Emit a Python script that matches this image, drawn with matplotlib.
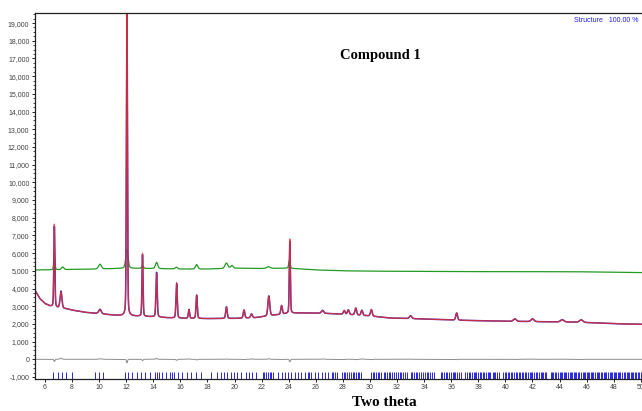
import numpy as np
import matplotlib
matplotlib.use("Agg")
import matplotlib.pyplot as plt
from matplotlib.ticker import FuncFormatter, MultipleLocator, AutoMinorLocator

# ------------------------------------------------
# datos leidos del difractograma (Compound 1)
# ------------------------------------------------
# fondo del patron principal (2theta, cuentas)
bg_x = [5.26, 5.6, 6.0, 6.4, 7.0, 7.6, 8.0, 9.0, 10.0, 11.0, 11.7, 13.0, 14.0,
        15.0, 16.0, 18.0, 20.0, 21.5, 22.5, 24.0, 25.0, 26.5, 28.0, 30.0, 31.5,
        33.0, 35.0, 37.0, 40.0, 43.0, 45.0, 47.0, 48.5, 50.09]
bg_y = [3900, 3450, 3150, 3000, 2900, 2850, 2780, 2650, 2580, 2500, 2460, 2430, 2400,
        2350, 2320, 2300, 2310, 2350, 2450, 2600, 2620, 2600, 2550, 2450, 2330,
        2300, 2250, 2200, 2150, 2120, 2100, 2050, 2000, 1980]

# picos: posicion, altura calculada, altura observada, anchura
peak_pos = [6.69, 7.18, 10.06, 12.05, 13.2, 14.24, 15.72, 16.63, 17.2, 19.4,
            20.7, 21.25, 22.53, 23.47, 24.08, 26.5, 28.1, 28.4, 28.95, 29.4,
            30.1, 33.0, 36.4, 40.7, 42.0, 44.2, 45.6]
peak_calc = [4680, 900, 220, 18000, 3560, 2460, 2000, 480, 1340, 640,
             470, 200, 1100, 500, 4200, 150, 220, 250, 400, 270,
             380, 150, 420, 150, 150, 120, 150]
peak_obs = [4560, 960, 250, 17800, 3480, 2520, 1940, 500, 1300, 660,
            450, 220, 1130, 480, 4060, 170, 200, 260, 380, 290,
            360, 160, 400, 140, 160, 130, 140]
peak_fwhm = [0.09, 0.16, 0.22, 0.09, 0.09, 0.11, 0.11, 0.11, 0.11, 0.13,
             0.13, 0.15, 0.16, 0.13, 0.09, 0.2, 0.15, 0.15, 0.15, 0.15,
             0.15, 0.2, 0.15, 0.25, 0.25, 0.3, 0.3]

# segundo patron (verde)
bg2_x = [5.26, 6.0, 8.0, 10.0, 12.0, 14.0, 16.0, 18.0, 20.0, 22.0, 24.0, 26.0,
         28.0, 30.0, 35.0, 40.0, 45.0, 50.09]
bg2_y = [5050, 5050, 5080, 5100, 5150, 5130, 5100, 5100, 5150, 5130, 5150, 5050,
         5000, 4980, 4960, 4950, 4950, 4900]
peak2_pos = [6.69, 7.3, 10.06, 12.05, 13.2, 14.24, 15.7, 17.2, 19.4, 19.8, 22.5, 24.05]
peak2_h = [950, 150, 270, 1050, 150, 350, 100, 250, 300, 150, 100, 450]
peak2_fwhm = [0.1, 0.2, 0.25, 0.2, 0.15, 0.2, 0.2, 0.2, 0.25, 0.2, 0.3, 0.12]

# posiciones de reflexiones (marcas azules)
hkl_pos = [6.61, 6.93, 7.23, 7.52, 8.02, 9.69, 9.99, 10.30, 11.90, 12.15, 12.45,
           12.77, 13.08, 13.38, 13.75, 14.12, 14.24, 14.41, 14.66, 14.90, 15.22,
           15.40, 15.55, 15.84, 16.13, 16.50, 16.75, 17.12, 17.49, 18.23, 18.72,
           18.97, 19.21, 19.46, 19.70, 19.95, 20.20, 20.44, 20.81, 21.06, 21.30,
           21.55, 22.09, 22.2, 22.33, 22.45, 22.58, 22.7, 22.83, 23.22, 23.47,
           23.71, 23.96, 24.2, 24.45, 24.7, 24.94, 25.19, 25.43, 25.5, 25.68,
           25.93, 26.17, 26.42, 26.66, 26.91, 27.16,
           27.3, 27.45, 27.6, 27.9, 28.05, 28.15, 28.3, 28.45, 28.6, 28.75, 28.85,
           29.0, 29.1, 29.2, 29.35,
           30.05, 30.2, 30.3, 30.45, 30.6, 30.7, 30.85, 31.0, 31.1, 31.25, 31.4,
           31.5, 31.65, 31.8, 31.9, 32.05, 32.2, 32.3, 32.45, 32.6, 32.75,
           33.0, 33.1, 33.25, 33.4, 33.5, 33.65, 33.8, 33.9, 34.05, 34.2, 34.3,
           34.45, 34.6, 34.7,
           35.25, 35.35, 35.5, 35.6, 35.7, 35.85, 35.95, 36.1, 36.2, 36.3, 36.45,
           36.55, 36.7,
           37.05, 37.15, 37.3, 37.4, 37.5, 37.65, 37.75, 37.85, 38.0, 38.1, 38.2,
           38.35, 38.45, 38.55, 38.7, 38.8, 38.9, 39.05, 39.15, 39.25, 39.4, 39.5,
           39.85, 39.95, 40.05, 40.2, 40.3, 40.4, 40.5, 40.65, 40.75, 40.85, 41.0,
           41.1, 41.2, 41.3, 41.45, 41.55, 41.65, 41.8, 41.9, 42.0, 42.1, 42.25,
           42.35, 42.45, 42.6, 42.7, 42.8, 42.95, 43.0,
           43.35, 43.45, 43.55, 43.65, 43.75, 43.9, 44.0, 44.1, 44.2, 44.3, 44.4,
           44.5, 44.6, 44.75, 44.85, 44.95, 45.05, 45.15, 45.25, 45.35, 45.45,
           45.6, 45.7, 45.8, 45.9, 46.0, 46.1, 46.2, 46.3, 46.4, 46.5, 46.65,
           46.75, 46.85, 46.95, 47.05, 47.15, 47.25, 47.35, 47.45, 47.55, 47.7,
           47.8, 47.9, 48.0, 48.1, 48.2, 48.3, 48.4, 48.5, 48.6, 48.75, 48.85,
           48.95, 49.05, 49.15, 49.25, 49.35, 49.45, 49.55, 49.65, 49.8, 49.9, 50.0]


def perfil(x, pos, alt, fwhm, eta=0.25):
    """Suma de picos pseudo-Voigt (eta = fraccion Lorentziana)"""
    y = np.zeros_like(x)
    for p, h, w in zip(pos, alt, fwhm):
        g = (w / 2) ** 2
        lor = g / ((x - p) ** 2 + g)
        gau = np.exp(-4 * np.log(2) * (x - p) ** 2 / w ** 2)
        y += h * (eta * lor + (1 - eta) * gau)
    return y


tt = np.arange(5.26, 50.09, 0.005)
fondo = np.interp(tt, bg_x, bg_y)
y_calc = fondo + perfil(tt, peak_pos, peak_calc, peak_fwhm)
y_obs = fondo + perfil(tt, peak_pos, peak_obs, peak_fwhm)
y_dif = y_obs - y_calc
y_verde = np.interp(tt, bg2_x, bg2_y) + perfil(tt, peak2_pos, peak2_h, peak2_fwhm)

# ------------------------------------------------
# grafica
# ------------------------------------------------
fig = plt.figure(figsize=(6.42, 4.11), dpi=100)
ax = fig.add_axes([0.0545, 0.078, 0.9455, 0.8896])

ax.plot(tt, y_verde, color="#239b23", lw=0.9)
ax.plot(tt, y_obs, color="#3030c0", lw=1.1)
ax.plot(tt, y_calc, color="#f02c2c", lw=0.9, alpha=0.8)
ax.plot(tt, y_dif, color="#8c8c8c", lw=0.7)
ax.vlines(hkl_pos, -1110, -740, color="#2828e0", lw=0.7)

ax.set_xlim(5.26, 50.09)
ax.set_ylim(-1110, 19550)

ax.xaxis.set_major_locator(MultipleLocator(2))
ax.yaxis.set_major_locator(MultipleLocator(1000))
ax.yaxis.set_minor_locator(AutoMinorLocator(4))
ax.yaxis.set_major_formatter(FuncFormatter(lambda v, p: f"{int(v):,}"))
ax.tick_params(labelsize=5, labelcolor="#404040", length=2.5, width=0.6, pad=1.5)
ax.tick_params(which="minor", length=1.5, width=0.5)
for lab in ax.get_xticklabels() + ax.get_yticklabels():
    lab.set_family("Liberation Sans")

for s in ax.spines.values():
    s.set_linewidth(0.9)
    s.set_color("#202020")
ax.spines["right"].set_visible(False)

fig.text(0.593, 0.864, "Compound 1", ha="center", va="center",
         family="Liberation Serif", fontweight="bold", fontsize=10.5)
fig.text(0.598, 0.02, "Two theta", ha="center", va="center",
         family="Liberation Serif", fontweight="bold", fontsize=11)
fig.text(0.995, 0.951, "Structure   100.00 %", ha="right", va="center",
         family="Liberation Sans", fontsize=5, color="#1a1aff")

fig.savefig("out.png", dpi=100)
